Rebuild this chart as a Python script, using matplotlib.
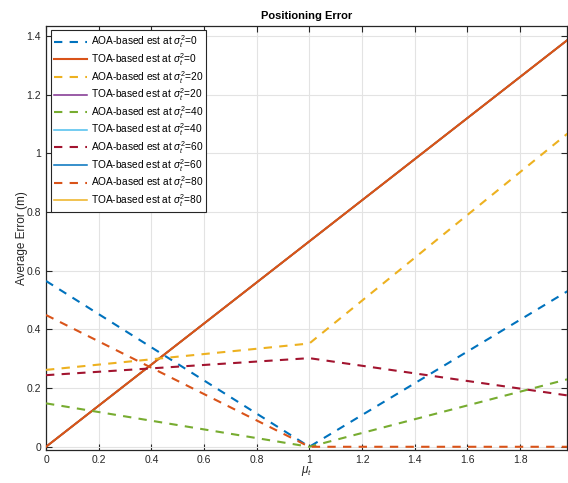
import matplotlib
matplotlib.use("Agg")
import matplotlib.pyplot as plt
from matplotlib.ticker import FuncFormatter

plt.rcParams['font.family'] = ['Liberation Sans', 'DejaVu Sans']
plt.rcParams['mathtext.fontset'] = 'custom'
plt.rcParams['mathtext.rm'] = 'Liberation Sans'
plt.rcParams['mathtext.it'] = 'Liberation Sans:italic'

# mean of the timing error (x axis), break points of the piecewise curves
mu_t = [0, 1, 1.98]
sigma_levels = [0, 20, 40, 60, 80]

# average positioning error (m) at each mu_t
aoa_err = {
    0: [0.565, 0.0, 0.53],
    20: [0.262, 0.352, 1.067],
    40: [0.148, 0.0, 0.23],
    60: [0.244, 0.302, 0.175],
    80: [0.449, 0.0, 0.0],
}
toa_err = {
    0: [0.0, 0.70, 1.386],
    20: [0.0, 0.70, 1.386],
    40: [0.0, 0.70, 1.386],
    60: [0.0, 0.70, 1.386],
    80: [0.0, 0.70, 1.386],
}

# matlab default color order
colors = ['#0072BD', '#D95319', '#EDB120', '#7E2F8E', '#77AC30',
          '#4DBEEE', '#A2142F', '#0072BD', '#D95319', '#EDB120']

fig = plt.figure(figsize=(5.68, 4.83), dpi=100)
ax = fig.add_axes([0.081, 0.0683, 0.918, 0.878])

k = 0
for s in sigma_levels:
    ax.plot(mu_t, aoa_err[s], color=colors[k], lw=1.5, dashes=(4, 3.5),
            label=r'AOA-based est at $\sigma_t^2$=%d' % s, zorder=3)
    k += 1
    # the toa curves coincide, keep the first one on top
    if s == 0:
        ax.plot(mu_t, toa_err[s], color=colors[k], lw=1.5,
                label=r'TOA-based est at $\sigma_t^2$=%d' % s, zorder=2.9)
    else:
        ax.plot(mu_t, toa_err[s], color=colors[k], lw=1.1,
                label=r'TOA-based est at $\sigma_t^2$=%d' % s, zorder=2)
    k += 1

ax.set_xlim(0, 1.98)
ax.set_ylim(-0.011, 1.434)
ax.set_xticks([0, 0.2, 0.4, 0.6, 0.8, 1, 1.2, 1.4, 1.6, 1.8])
ax.set_yticks([0, 0.2, 0.4, 0.6, 0.8, 1, 1.2, 1.4])
fmt = FuncFormatter(lambda v, p: '%g' % round(v, 2))
ax.xaxis.set_major_formatter(fmt)
ax.yaxis.set_major_formatter(fmt)

ax.grid(True, color='#e3e3e3', lw=0.8)
ax.set_axisbelow(True)
ax.tick_params(direction='in', length=4, width=0.8, color='#262626',
               labelsize=7.5, labelcolor='#262626', top=True, right=True)
for sp in ax.spines.values():
    sp.set_color('#262626')
    sp.set_linewidth(0.9)

ax.set_title('Positioning Error', fontsize=8, fontweight='bold', pad=5)
ax.set_xlabel(r'$\mu_t$', fontsize=8.5, color='#262626', labelpad=-0.5)
ax.set_ylabel('Average Error (m)', fontsize=8.5, color='#262626', labelpad=-1)

leg = ax.legend(loc='upper left', fontsize=7.3, handlelength=3.3,
                labelspacing=0.08, borderaxespad=0.45, handletextpad=0.35,
                borderpad=0.3, fancybox=False, edgecolor='#262626',
                framealpha=1)
leg.get_frame().set_linewidth(0.8)

fig.savefig('out.png', dpi=100)
